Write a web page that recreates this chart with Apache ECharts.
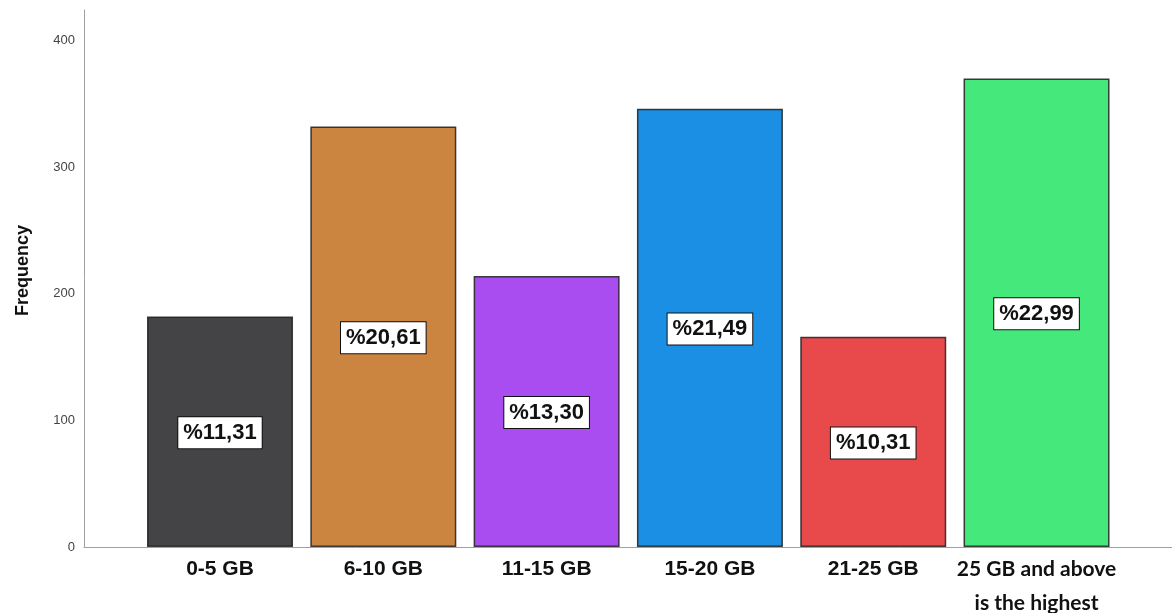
<!DOCTYPE html>
<html>
<head>
<meta charset="utf-8">
<script src="https://cdn.jsdelivr.net/npm/echarts@6/dist/echarts.min.js"></script>
<style>
  html, body { margin: 0; padding: 0; background: #fff; }
  #chart { width: 1172px; height: 613px; }
</style>
</head>
<body>
<div id="chart"></div>
<script>
var categories = ['0-5 GB', '6-10 GB', '11-15 GB', '15-20 GB', '21-25 GB', '25 GB and above\nis the highest'];
var frequencies = [182, 332, 214, 346, 166, 370];
var percentLabels = ['%11,31', '%20,61', '%13,30', '%21,49', '%10,31', '%22,99'];
var barColors = ['#444446', '#cc8541', '#a94df1', '#1a8fe4', '#e84a4b', '#44e87b'];
var yTicks = [0, 100, 200, 300, 400];

var myChart = echarts.init(document.getElementById('chart'));

var axisGray = '#a0a0a0';
var yMax = 424;

var catData = categories.map(function (c, i) {
    if (i === categories.length - 1) {
        return {
            value: c,
            textStyle: { fontFamily: 'Lato', fontWeight: 'bold', fontSize: 21, color: '#111' }
        };
    }
    return c;
});

var option = {
    animation: false,
    grid: [
        { left: 84, right: 0, top: 10, bottom: 66, containLabel: false, outerBoundsMode: 'none' },
        { left: 138.35, right: 53.8, top: 10, bottom: 66, containLabel: false, outerBoundsMode: 'none' }
    ],
    xAxis: [{
        gridIndex: 0,
        type: 'value',
        min: 0,
        max: 1,
        axisLine: { show: true, lineStyle: { color: axisGray, width: 1 } },
        axisTick: { show: false },
        axisLabel: { show: false },
        splitLine: { show: false }
    }, {
        gridIndex: 1,
        type: 'category',
        data: catData,
        axisLine: { show: false },
        axisTick: { show: false },
        axisLabel: {
            interval: 0,
            margin: 5,
            lineHeight: 34,
            fontFamily: 'Liberation Sans',
            fontWeight: 'bold',
            fontSize: 21,
            color: '#111'
        }
    }],
    yAxis: [{
        gridIndex: 0,
        type: 'value',
        min: 0,
        max: yMax,
        interval: 100,
        name: 'Frequency',
        nameLocation: 'middle',
        nameGap: 52,
        nameTextStyle: { fontFamily: 'Liberation Sans', fontWeight: 'bold', fontSize: 18, color: '#111', padding: [0, 0, 0, 16] },
        axisLine: { show: true, lineStyle: { color: axisGray, width: 1 } },
        axisTick: { show: false },
        axisLabel: {
            showMaxLabel: false,
            margin: 9,
            fontFamily: 'Liberation Sans',
            fontSize: 13,
            color: '#444',
            formatter: function (v) { return yTicks.indexOf(v) >= 0 ? String(v) : ''; }
        },
        splitLine: { show: false }
    }, {
        gridIndex: 1,
        type: 'value',
        min: 0,
        max: yMax,
        show: false
    }],
    series: [{
        type: 'bar',
        xAxisIndex: 1,
        yAxisIndex: 1,
        barWidth: 146,
        data: frequencies.map(function (v, i) {
            return {
                value: v,
                itemStyle: {
                    color: barColors[i],
                    borderColor: 'rgba(30,30,30,0.85)',
                    borderWidth: 1.5
                }
            };
        }),
        label: {
            show: true,
            position: 'inside',
            offset: [0, 1],
            formatter: function (p) { return percentLabels[p.dataIndex]; },
            fontFamily: 'Liberation Sans',
            fontWeight: 'bold',
            fontSize: 22,
            color: '#111',
            backgroundColor: '#fff',
            borderColor: '#111',
            borderWidth: 1,
            padding: [5, 5, 4, 5]
        }
    }]
};

myChart.setOption(option);
window.addEventListener('resize', function () {
    myChart.resize();
});
</script>
</body>
</html>
